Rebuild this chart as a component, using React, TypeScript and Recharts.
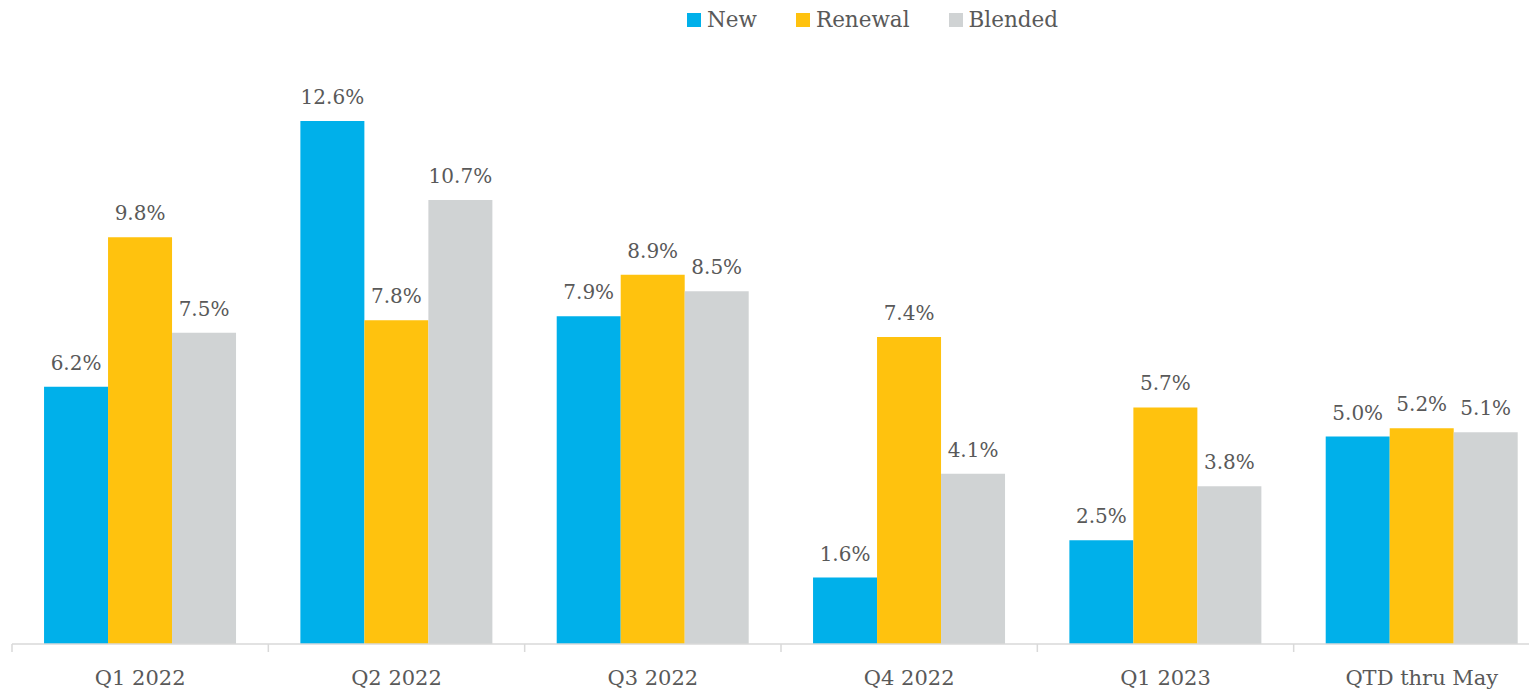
import React from 'react';
import { BarChart, Bar, XAxis, YAxis, LabelList } from 'recharts';

const categories = ['Q1 2022', 'Q2 2022', 'Q3 2022', 'Q4 2022', 'Q1 2023', 'QTD thru May'];
const newValues = [6.2, 12.6, 7.9, 1.6, 2.5, 5.0];
const renewalValues = [9.8, 7.8, 8.9, 7.4, 5.7, 5.2];
const blendedValues = [7.5, 10.7, 8.5, 4.1, 3.8, 5.1];
const seriesNames = ['New', 'Renewal', 'Blended'];
const seriesColors = ['#00B0EA', '#FFC20E', '#D0D3D4'];

const data = categories.map((c, i) => ({
  category: c,
  New: newValues[i],
  Renewal: renewalValues[i],
  Blended: blendedValues[i],
}));

const FONT = '"DejaVu Serif", "Liberation Serif", serif';
const TEXT = '#595959';
const CHART_W = 1542;
const CHART_H = 686;
const MARGIN = { top: 55, right: 0, bottom: 0, left: 4 };
const BAND = (CHART_W - MARGIN.left - MARGIN.right) / categories.length;

const CustomTick = (props: any) => {
  const { x, y, payload } = props;
  const left = x - BAND / 2;
  return (
    <g>
      <line x1={left} x2={left} y1={y} y2={y + 8} stroke="#D9D9D9" strokeWidth={1.5} />
      <text x={x} y={y + 41} textAnchor="middle" fill={TEXT} fontFamily={FONT} fontSize={21}>
        {payload.value}
      </text>
    </g>
  );
};

const fmt = (v: any) => `${Number(v).toFixed(1)}%`;

export default function App() {
  return (
    <div style={{ position: 'relative', width: 1529, height: CHART_H, overflow: 'hidden' }}>
      <div
        style={{
          position: 'absolute',
          top: 1,
          left: 679,
          display: 'flex',
          gap: 39,
          fontFamily: FONT,
          fontSize: 21.5,
          lineHeight: '22px',
          color: TEXT,
          zIndex: 2,
          whiteSpace: 'nowrap',
        }}
      >
        {seriesNames.map((n, i) => (
          <div key={n} style={{ display: 'flex', alignItems: 'flex-start' }}>
            <span
              style={{
                display: 'inline-block',
                width: 14,
                height: 14,
                background: seriesColors[i],
                marginTop: 4,
                marginRight: 6,
              }}
            />
            <span>{n}</span>
          </div>
        ))}
      </div>
      <BarChart
        width={CHART_W}
        height={CHART_H}
        data={data}
        margin={MARGIN}
        barCategoryGap="12.5%"
        barGap={0}
      >
        <XAxis
          dataKey="category"
          axisLine={{ stroke: '#D9D9D9', strokeWidth: 1.5 }}
          tickLine={false}
          tickSize={0}
          tickMargin={0}
          height={50}
          interval={0}
          tick={<CustomTick />}
        />
        <YAxis hide domain={[0, 14]} />
        {seriesNames.map((n, i) => (
          <Bar key={n} dataKey={n} fill={seriesColors[i]} isAnimationActive={false}>
            <LabelList
              dataKey={n}
              position="top"
              offset={17}
              formatter={fmt}
              fill={TEXT}
              fontFamily={FONT}
              fontSize={20}
            />
          </Bar>
        ))}
      </BarChart>
    </div>
  );
}
